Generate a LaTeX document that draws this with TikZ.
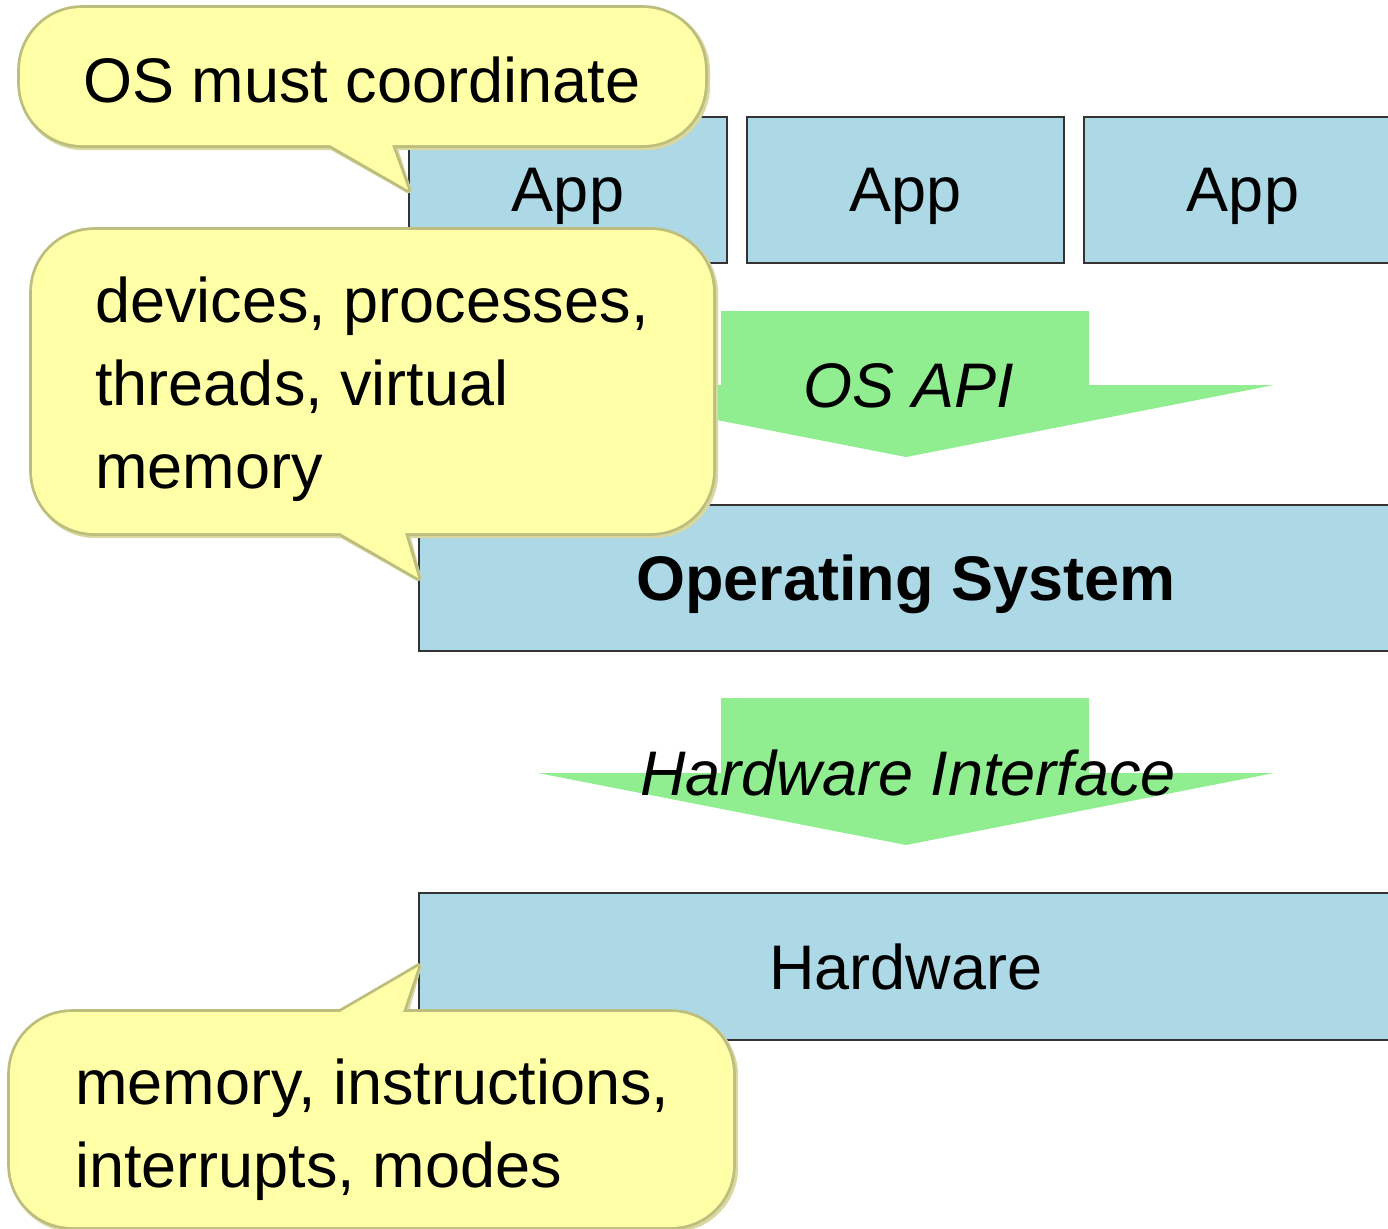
\documentclass[tikz,border=0pt]{standalone}
\usepackage{fontspec}
\setmainfont{Liberation Sans}
\definecolor{boxblue}{HTML}{ADD8E6}
\definecolor{arrowgreen}{HTML}{90EE90}
\definecolor{notefill}{HTML}{FFFFA8}
\definecolor{noteedge}{HTML}{BDBD7E}
\definecolor{noteshade}{HTML}{D8D8A0}

\begin{document}
\begin{tikzpicture}[x=0.5pt,y=-0.5pt,
  big/.style={font=\fontsize{31.5}{41.5}\selectfont},
  layer/.style={big, draw=black!80, line width=0.75pt, fill=boxblue,
    inner sep=0pt, text depth=0pt},
  wedge/.style={fill=arrowgreen},
  iflabel/.style={font=\fontsize{31.5}{41.5}\selectfont\itshape, inner sep=0pt, text depth=0pt},
  noteline/.style={draw=noteedge, line width=2.8pt, line join=round},
  noteshadow/.style={draw=noteshade, line width=3.2pt, line join=round},
  notefill/.style={fill=notefill},
  notetext/.style={big, align=left, anchor=base west, inner sep=0pt}]

\useasboundingbox (0,0) rectangle (1388,1228);

% layers
\node[layer, minimum width=159pt, minimum height=73pt] (app1) at (568,190) {App};
\node[layer, minimum width=158.5pt, minimum height=73pt] (app2) at (905.5,190) {App};
\node[layer, minimum width=159pt, minimum height=73pt] (app3) at (1243,190) {App};
\node[layer, minimum width=487pt, minimum height=73pt, font=\fontsize{31.5}{41.5}\selectfont\bfseries] (os) at (906,578) {Operating System};
\node[layer, minimum width=487pt, minimum height=73.5pt] (hw) at (906,966.5) {Hardware};

% interface arrows
\fill[wedge] (721,311) -- (1089,311) -- (1089,385) -- (1274,385) -- (906,457)
  -- (538,385) -- (721,385) -- cycle;
\node[iflabel] (api) at (909,385) {OS API};
\fill[wedge] (721,698) -- (1089,698) -- (1089,773) -- (1274,773) -- (906,845)
  -- (538,773) -- (721,773) -- cycle;
\node[iflabel] (hwi) at (908,773) {Hardware Interface};

% callout: #1 = body corners, #2/#3 = tail base points, #4 = tip, #5 = base points pushed inside
\newcommand\notecallout[6]{%
  \draw[noteshadow, shift={(2,2)}] [rounded corners=31pt] #1;
  \draw[noteshadow, shift={(2,2)}] #2 -- #4 -- #3;
  \draw[noteline] [rounded corners=31pt] #1;
  \draw[noteline] #2 -- #4 -- #3;
  \fill[notefill] [rounded corners=31pt] #1;
  \fill[notefill] #2 -- #4 -- #3 -- #6 -- #5 -- cycle;
}

% callout 1
\notecallout{(20,8) rectangle (705,145)}{(330,145)}{(392,145)}{(app1.west)}{(330,125)}{(392,125)}
\node[notetext] (t1) at (83,102) {OS must coordinate};

% callout 2
\notecallout{(32,230) rectangle (713,533)}{(340,533)}{(405,533)}{(os.west)}{(340,510)}{(405,510)}
\node[notetext] (t2) at (95,488) {devices, processes,\\threads, virtual\\memory};

% callout 3
\notecallout{(10,1012) rectangle (733,1227)}{(340,1012)}{(403,1012)}{(hw.west)}{(340,1035)}{(403,1035)}
\node[notetext] (t3) at (75,1187) {memory, instructions,\\interrupts, modes};

\end{tikzpicture}
\end{document}
